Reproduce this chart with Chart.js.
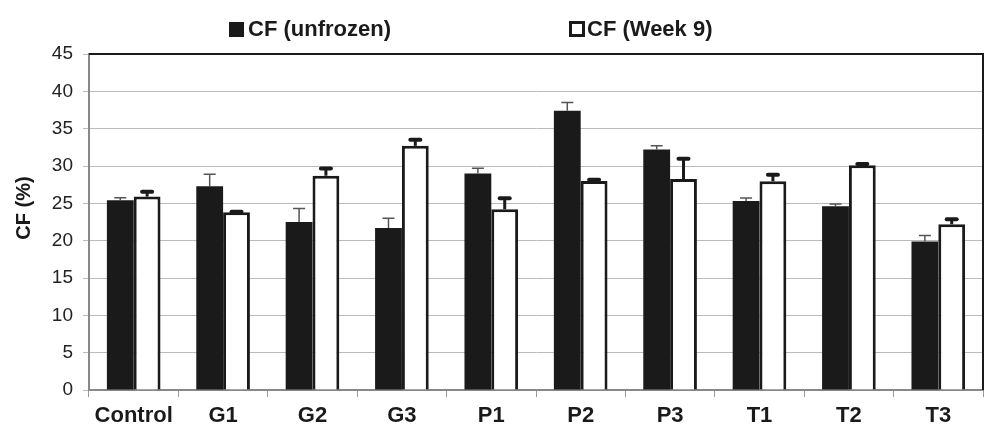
<!DOCTYPE html>
<html>
<head>
<meta charset="utf-8">
<script src="https://cdn.jsdelivr.net/npm/chart.js@4.4.1/dist/chart.umd.min.js"></script>
<style>
    body { margin: 0; background: #fff; }
    #wrap { position: relative; width: 987px; height: 429px; }
    #legend { position: absolute; top: 16px; left: 0; width: 987px; height: 26px; font-family: "Liberation Sans", Arial, sans-serif; font-weight: bold; font-size: 22px; color: #1a1a1a; }
    .item { position: absolute; top: 0; height: 26px; display: flex; align-items: center; }
    .box { width: 15px; height: 15px; box-sizing: border-box; margin-right: 4px; }
</style>
</head>
<body>
<div id="wrap">
    <canvas id="cfChart" width="987" height="429"></canvas>
    <div id="legend"></div>
</div>
<script>
// Data
const categories = ['Control', 'G1', 'G2', 'G3', 'P1', 'P2', 'P3', 'T1', 'T2', 'T3'];
const unfrozen = [25.4, 27.3, 22.5, 21.7, 29.0, 37.4, 32.2, 25.3, 24.6, 19.9];
const unfrozenErr = [0.35, 1.6, 1.8, 1.3, 0.7, 1.1, 0.5, 0.4, 0.3, 0.8];
const week9 = [25.9, 23.8, 28.7, 32.7, 24.2, 28.0, 28.25, 27.95, 30.1, 22.2];
const week9Err = [0.8, 0.2, 1.1, 0.95, 1.6, 0.3, 2.85, 1.0, 0.3, 0.8];
const yTicks = [0, 5, 10, 15, 20, 25, 30, 35, 40, 45];
const yTitle = 'CF (%)';

const errors = [unfrozenErr, week9Err];
const FONT = '"Liberation Sans", Arial, sans-serif';

// draws error bars, the black top/right frame and the y title
const errorBarPlugin = {
    id: 'errorBars',
    afterDatasetsDraw(chart) {
        const c = chart.ctx;
        const yScale = chart.scales.y;
        chart.data.datasets.forEach((ds, i) => {
            const meta = chart.getDatasetMeta(i);
            meta.data.forEach((bar, j) => {
                const top = yScale.getPixelForValue(ds.data[j] + errors[i][j]);
                c.save();
                if (i === 0) {
                    c.strokeStyle = '#555';
                    c.lineWidth = 1.5;
                    c.beginPath();
                    c.moveTo(bar.x, bar.y);
                    c.lineTo(bar.x, top);
                    c.moveTo(bar.x - 6, top);
                    c.lineTo(bar.x + 6, top);
                    c.stroke();
                } else {
                    c.strokeStyle = '#1a1a1a';
                    c.lineWidth = 3;
                    c.beginPath();
                    c.moveTo(bar.x, bar.y);
                    c.lineTo(bar.x, top + 1);
                    c.stroke();
                    c.lineWidth = 4;
                    c.lineCap = 'round';
                    c.beginPath();
                    c.moveTo(bar.x - 5, top + 1);
                    c.lineTo(bar.x + 5, top + 1);
                    c.stroke();
                }
                c.restore();
            });
        });
        const a = chart.chartArea;
        c.save();
        c.strokeStyle = '#1a1a1a';
        c.lineWidth = 2;
        c.beginPath();
        c.moveTo(a.left, a.top);
        c.lineTo(a.right, a.top);
        c.lineTo(a.right, a.bottom);
        c.stroke();

        c.translate(24, 208);
        c.rotate(-Math.PI / 2);
        c.fillStyle = '#1a1a1a';
        c.font = 'bold 20px ' + FONT;
        c.textAlign = 'center';
        c.textBaseline = 'middle';
        c.fillText(yTitle, 0, 0);
        c.restore();
    }
};

const ctx = document.getElementById('cfChart').getContext('2d');
const chart = new Chart(ctx, {
    type: 'bar',
    data: {
        labels: categories,
        datasets: [
            {
                label: 'CF (unfrozen)',
                data: unfrozen,
                backgroundColor: '#1a1a1a',
                borderWidth: 0
            },
            {
                label: 'CF (Week 9)',
                data: week9,
                backgroundColor: '#ffffff',
                borderColor: '#1a1a1a',
                borderWidth: 3
            }
        ]
    },
    options: {
        responsive: false,
        animation: false,
        devicePixelRatio: 1,
        layout: { padding: { top: 54, right: 4, left: 0, bottom: 0 } },
        datasets: {
            bar: { categoryPercentage: 0.6, barPercentage: 1.0 }
        },
        scales: {
            x: {
                grid: { drawOnChartArea: false, drawTicks: true, tickLength: 7, color: '#999', offset: true },
                border: { color: '#888', width: 2 },
                ticks: { color: '#1a1a1a', font: { family: FONT, size: 22, weight: 'bold' }, padding: 6 },
                afterFit: (scale) => { scale.height = 39; }
            },
            y: {
                min: 0,
                max: 45,
                afterBuildTicks: (scale) => { scale.ticks = yTicks.map(v => ({ value: v })); },
                grid: { color: '#bbb', lineWidth: 1, tickLength: 6 },
                border: { color: '#888', width: 2 },
                ticks: { color: '#222', font: { family: FONT, size: 19 }, padding: 10 },
                afterFit: (scale) => { scale.width = 89; }
            }
        },
        plugins: {
            legend: { display: false },
            tooltip: { enabled: false }
        }
    },
    plugins: [errorBarPlugin]
});

// html legend from the datasets
const legendPos = [229, 569];
const legendEl = document.getElementById('legend');
chart.data.datasets.forEach((ds, i) => {
    const item = document.createElement('div');
    item.className = 'item';
    item.style.left = legendPos[i] + 'px';
    const box = document.createElement('span');
    box.className = 'box';
    box.style.background = ds.backgroundColor;
    if (ds.borderWidth) {
        box.style.border = '3px solid #1a1a1a';
        box.style.width = '16px';
        box.style.height = '16px';
        box.style.marginRight = '2px';
    }
    item.appendChild(box);
    item.appendChild(document.createTextNode(ds.label));
    legendEl.appendChild(item);
});
</script>
</body>
</html>
